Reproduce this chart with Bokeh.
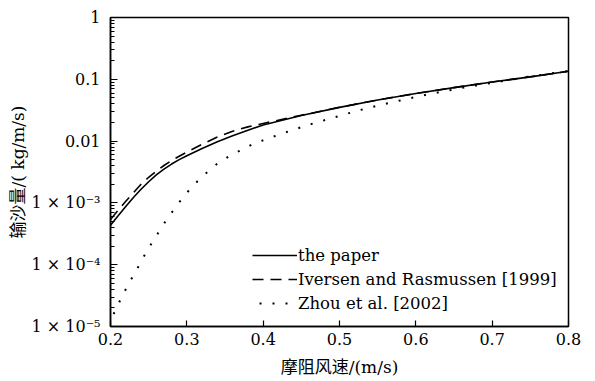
from bokeh.plotting import figure
from bokeh.models import (Range1d, FixedTicker, CustomJSTickFormatter, Legend,
                          LegendItem)
from bokeh.embed import file_html
from bokeh.resources import INLINE

# ---- data ----
u_paper = [0.20, 0.21, 0.22, 0.23, 0.24, 0.25, 0.26, 0.27, 0.28, 0.29, 0.30,
           0.32, 0.34, 0.36, 0.38, 0.40, 0.45, 0.50, 0.55, 0.60, 0.65, 0.70,
           0.75, 0.80]
q_paper = [4.37e-4, 6.17e-4, 8.71e-4, 1.22e-3, 1.66e-3, 2.20e-3, 2.84e-3,
           3.51e-3, 4.25e-3, 5.01e-3, 5.79e-3, 7.59e-3, 9.77e-3, 0.0122,
           0.0150, 0.0182, 0.0260, 0.0351, 0.0462, 0.0589, 0.0733, 0.0902,
           0.1096, 0.135]

u_iversen = [0.20, 0.21, 0.22, 0.23, 0.24, 0.25, 0.26, 0.27, 0.28, 0.29, 0.30,
             0.32, 0.34, 0.36, 0.38, 0.40, 0.45, 0.50, 0.55, 0.60, 0.65, 0.70,
             0.75, 0.80]
q_iversen = [5.37e-4, 7.59e-4, 1.06e-3, 1.46e-3, 2.00e-3, 2.60e-3, 3.27e-3,
             4.03e-3, 4.84e-3, 5.69e-3, 6.61e-3, 8.91e-3, 0.01161, 0.01445,
             0.0170, 0.0193, 0.0262, 0.0352, 0.0463, 0.0590, 0.0734, 0.0903,
             0.1097, 0.135]

u_zhou = [0.200, 0.2088, 0.2161, 0.2249, 0.2337, 0.2423, 0.2515, 0.2612,
          0.2711, 0.2821, 0.294, 0.307, 0.323, 0.3398, 0.357, 0.389, 0.424,
          0.4577, 0.4912, 0.5245, 0.558, 0.6084, 0.6585, 0.7437, 0.80]
q_zhou = [1.26e-5, 2.11e-5, 3.26e-5, 5.21e-5, 8.05e-5, 1.27e-4, 1.99e-4,
          3.08e-4, 4.82e-4, 7.53e-4, 1.19e-3, 1.84e-3, 2.88e-3, 4.30e-3,
          5.85e-3, 9.25e-3, 0.01312, 0.01807, 0.02382, 0.03126, 0.03954,
          0.0547, 0.0718, 0.1081, 0.1365]

series_labels = ["the paper", "Iversen and Rasmussen [1999]", "Zhou et al. [2002]"]

x_ticks = [0.2, 0.3, 0.4, 0.5, 0.6, 0.7, 0.8]
x_tick_labels = ["0.2", "0.3", "0.4", "0.5", "0.6", "0.7", "0.8"]
y_ticks = [1e-5, 1e-4, 1e-3, 1e-2, 1e-1, 1.0]
y_tick_labels = ["1 × 10⁻⁵", "1 × 10⁻⁴", "1 × 10⁻³", "0.01", "0.1", "1"]

x_title = "摩阻风速/(m/s)"
y_title = "输沙量/( kg/m/s)"

SERIF = "DejaVu Serif"
MIXED = "'DejaVu Serif', 'Noto Sans CJK SC'"

p = figure(width=595, height=381, output_backend="svg", toolbar_location=None,
           x_range=Range1d(0.2, 0.8), y_range=Range1d(1e-5, 1.0),
           y_axis_type="log",
           min_border_left=110, min_border_right=27,
           min_border_top=17, min_border_bottom=55)

p.background_fill_color = "white"
p.border_fill_color = "white"
p.outline_line_color = "black"
p.outline_line_width = 1.5
p.xgrid.visible = False
p.ygrid.visible = False

r1 = p.line(u_paper, q_paper, line_color="black", line_width=1.6)
r2 = p.line(u_iversen, q_iversen, line_color="black", line_width=1.6,
            line_dash="11 7")
r3 = p.line(u_zhou, q_zhou, line_color="black", line_width=2,
            line_dash="2 11", line_dash_offset=6)

minor = []
for t in y_ticks[:-1]:
    for k in range(2, 10):
        minor.append(t * k)

fmt_code = """
let best = 0, bd = Infinity;
for (let i = 0; i < vals.length; i++) {
  const d = Math.abs(Math.log10(vals[i]) - Math.log10(tick));
  if (d < bd) { bd = d; best = i; }
}
return labs[best];
"""
fmt_code_x = """
let best = 0, bd = Infinity;
for (let i = 0; i < vals.length; i++) {
  const d = Math.abs(vals[i] - tick);
  if (d < bd) { bd = d; best = i; }
}
return labs[best];
"""

ya = p.yaxis[0]
ya.ticker = FixedTicker(ticks=y_ticks, minor_ticks=minor)
ya.formatter = CustomJSTickFormatter(args=dict(vals=y_ticks, labs=y_tick_labels),
                                     code=fmt_code)
xa = p.xaxis[0]
xa.ticker = FixedTicker(ticks=x_ticks, minor_ticks=[])
xa.formatter = CustomJSTickFormatter(args=dict(vals=x_ticks, labs=x_tick_labels),
                                     code=fmt_code_x)

for ax in (xa, ya):
    ax.axis_line_color = "black"
    ax.axis_line_width = 1.5
    ax.major_tick_line_color = "black"
    ax.major_tick_line_width = 1.2
    ax.minor_tick_line_color = "black"
    ax.minor_tick_line_width = 1.0
    ax.major_tick_out = 0
    ax.minor_tick_out = 0
    ax.major_label_text_font = SERIF
    ax.major_label_text_font_size = "16px"
    ax.major_label_text_color = "black"
    ax.axis_label_text_font = MIXED
    ax.axis_label_text_font_size = "17px"
    ax.axis_label_text_font_style = "normal"
    ax.axis_label_text_color = "black"

xa.major_tick_in = 6
xa.minor_tick_in = 0
xa.major_label_standoff = 6
xa.axis_label = x_title
xa.axis_label_standoff = 9

ya.major_tick_in = 7
ya.minor_tick_in = 4
ya.major_label_standoff = 10
ya.axis_label = y_title
ya.axis_label_standoff = 1

legend = Legend(items=[LegendItem(label=series_labels[0], renderers=[r1]),
                       LegendItem(label=series_labels[1], renderers=[r2]),
                       LegendItem(label=series_labels[2], renderers=[r3])],
                location=(142, 11))
legend.background_fill_alpha = 0
legend.border_line_alpha = 0
legend.padding = 0
legend.margin = 0
legend.spacing = 0
legend.glyph_width = 45
legend.glyph_height = 24
legend.label_height = 24
legend.label_standoff = 1
legend.label_text_font = SERIF
legend.label_text_font_size = "16.5px"
legend.label_text_color = "black"
p.add_layout(legend, "center")

open("out.html", "w").write(file_html(p, INLINE))
